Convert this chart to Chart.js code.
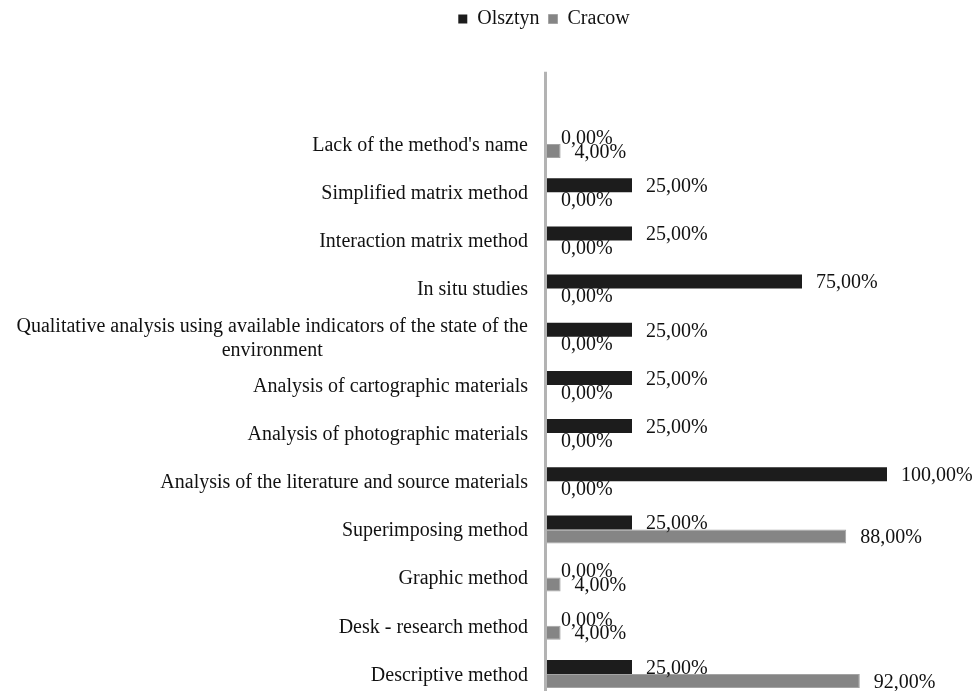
<!DOCTYPE html>
<html>
<head>
<meta charset="utf-8">
<script src="https://cdn.jsdelivr.net/npm/chart.js@4"></script>
<style>
  html, body { margin: 0; padding: 0; background: #fff; overflow: hidden; }
  #wrap { position: relative; width: 977px; height: 698px; }
</style>
</head>
<body>
<div id="wrap"><canvas id="c"></canvas></div>
<script>
const categories = [
  "Lack of the method's name",
  "Simplified matrix method",
  "Interaction matrix method",
  "In situ studies",
  ["Qualitative analysis using available indicators of the state of the", "environment"],
  "Analysis of cartographic materials",
  "Analysis of photographic materials",
  "Analysis of the literature and source materials",
  "Superimposing method",
  "Graphic method",
  "Desk - research method",
  "Descriptive method"
];
const olsztyn = [0, 25, 25, 75, 25, 25, 25, 100, 25, 0, 0, 25];
const cracow  = [4, 0, 0, 0, 0, 0, 0, 0, 88, 4, 4, 92];
const seriesNames = ["Olsztyn", "Cracow"];

const FONT = "'Liberation Serif', 'Times New Roman', serif";
const fmt = v => v.toFixed(2).replace('.', ',') + '%';

const customDraw = {
  id: 'customDraw',
  beforeDatasetsDraw(chart) {
    const {ctx, chartArea, scales: {x, y}} = chart;
    const band = y.getPixelForValue(1) - y.getPixelForValue(0);
    const x0 = x.getPixelForValue(0);
    ctx.save();
    ctx.strokeStyle = '#b3b3b3';
    ctx.lineWidth = 3;
    ctx.beginPath();
    ctx.moveTo(x0 - 1.5, chartArea.top - band);
    ctx.lineTo(x0 - 1.5, chartArea.bottom);
    ctx.stroke();
    ctx.restore();
  },
  afterDatasetsDraw(chart) {
    const {ctx, chartArea, scales: {y}} = chart;
    ctx.save();
    ctx.fillStyle = '#111111';
    ctx.font = '20px ' + FONT;
    ctx.textBaseline = 'middle';
    // value labels
    ctx.textAlign = 'left';
    chart.data.datasets.forEach((ds, di) => {
      const meta = chart.getDatasetMeta(di);
      meta.data.forEach((bar, i) => {
        ctx.fillText(fmt(ds.data[i]), bar.x + 14, bar.y + 1.5);
      });
    });
    // category labels: block right-aligned, lines centered
    const right = chartArea.left - 19;
    const lh = 24;
    chart.data.labels.forEach((lab, i) => {
      const lines = Array.isArray(lab) ? lab : [lab];
      const w = Math.max(...lines.map(l => ctx.measureText(l).width));
      const cy = y.getPixelForValue(i);
      ctx.textAlign = 'center';
      lines.forEach((l, j) => {
        ctx.fillText(l, right - w / 2, cy + (j - (lines.length - 1) / 2) * lh + 1.5);
      });
    });
    ctx.restore();
  }
};

new Chart(document.getElementById('c'), {
  type: 'bar',
  data: {
    labels: categories,
    datasets: [
      { label: seriesNames[0], data: olsztyn, backgroundColor: '#1c1c1c', borderColor: '#1c1c1c', borderWidth: 0 },
      { label: seriesNames[1], data: cracow, backgroundColor: '#858585', borderColor: '#a3a3a3', borderWidth: 1 }
    ]
  },
  options: {
    indexAxis: 'y',
    responsive: true,
    maintainAspectRatio: false,
    animation: false,
    layout: { padding: { left: 201, right: 90, top: 0, bottom: 0 } },
    datasets: { bar: { categoryPercentage: 0.58, barPercentage: 1.0 } },
    plugins: {
      legend: {
        display: true,
        position: 'top',
        labels: {
          boxWidth: 9, boxHeight: 9, padding: 9,
          color: '#111111',
          font: { family: FONT, size: 20 }
        }
      },
      tooltip: { enabled: false }
    },
    scales: {
      x: {
        position: 'top',
        min: 0, max: 100,
        grid: { display: false, drawTicks: false },
        border: { display: false },
        ticks: { display: false },
        afterFit: s => {
          const lh = (s.chart.legend && s.chart.legend.height) ? s.chart.legend.height : 39;
          s.height = 120 - lh;
        }
      },
      y: {
        grid: { display: false, drawTicks: false },
        border: { display: false },
        ticks: { display: false },
        afterFit: s => { s.width = 346; }
      }
    }
  },
  plugins: [customDraw]
});
</script>
</body>
</html>
